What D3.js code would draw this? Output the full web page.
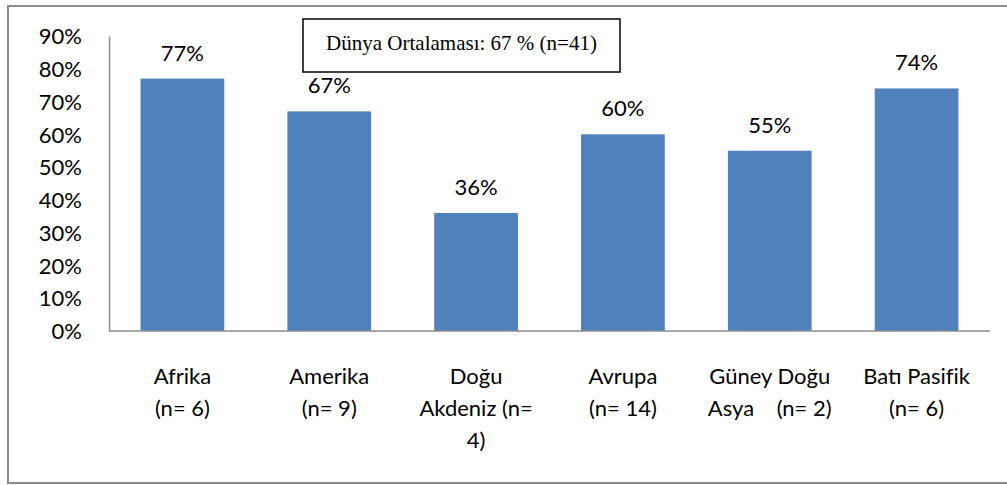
<!DOCTYPE html>
<html lang="tr">
<head>
<meta charset="UTF-8">
<title>Dünya Ortalaması</title>
<script src="https://cdn.jsdelivr.net/npm/d3@7"></script>
<style>
    body { margin: 0; background: #fff; }
    svg text { font-family: Lato, 'Open Sans', sans-serif; fill: #000; }
</style>
</head>
<body>
<svg id="chart" width="1007" height="485"></svg>
<script>
    const regions = ["Afrika", "Amerika", "Doğu Akdeniz", "Avrupa", "Güney Doğu Asya", "Batı Pasifik"];
    const values = [77, 67, 36, 60, 55, 74];
    // wrapped category labels as they appear under the axis
    const labelLines = [
        ["Afrika", "(n= 6)"],
        ["Amerika", "(n= 9)"],
        ["Doğu", "Akdeniz (n=", "4)"],
        ["Avrupa", "(n= 14)"],
        ["Güney Doğu", "Asya    (n= 2)"],
        ["Batı Pasifik", "(n= 6)"]
    ];
    const yTicks = [0, 10, 20, 30, 40, 50, 60, 70, 80, 90];
    const boxText = "Dünya Ortalaması: 67 % (n=41)";

    const svg = d3.select("#chart");
    const plotLeft = 109, plotRight = 990, plotTop = 36, plotBottom = 331;

    // outer frame (right edge is cut off)
    svg.append("path")
        .attr("d", "M1007,6 H8 V483 H1007")
        .attr("fill", "none")
        .attr("stroke", "#8c8c8c")
        .attr("stroke-width", 2);

    const x = d3.scaleBand().domain(regions).range([plotLeft, plotRight])
        .paddingInner(0.43).paddingOuter(0.215);
    const y = d3.scaleLinear().domain([0, 90]).range([plotBottom, plotTop]);

    // bars
    svg.selectAll("rect.bar")
        .data(regions)
        .enter().append("rect")
        .attr("class", "bar")
        .attr("x", d => x(d))
        .attr("width", x.bandwidth())
        .attr("y", (d, i) => y(values[i]))
        .attr("height", (d, i) => plotBottom - y(values[i]))
        .attr("fill", "#4f81bd");

    // y axis
    const yAxis = svg.append("g")
        .attr("transform", `translate(${plotLeft},0)`)
        .call(d3.axisLeft(y).tickValues(yTicks).tickSize(0).tickPadding(27).tickFormat(d => d + "%"));
    yAxis.select(".domain").attr("stroke", "#8c8c8c").attr("stroke-width", 1.5);
    yAxis.selectAll("text").style("font-size", "22px").attr("dy", "0.35em");

    // x axis line
    svg.append("line")
        .attr("x1", plotLeft).attr("x2", plotRight)
        .attr("y1", plotBottom).attr("y2", plotBottom)
        .attr("stroke", "#8c8c8c").attr("stroke-width", 1.5);

    // category labels
    const cat = svg.selectAll("text.cat")
        .data(regions)
        .enter().append("text")
        .attr("class", "cat")
        .attr("text-anchor", "middle")
        .style("white-space", "pre")
        .style("font-size", "22px");
    cat.each(function(d, i) {
        const t = d3.select(this);
        labelLines[i].forEach((line, j) => {
            t.append("tspan")
                .attr("x", x(d) + x.bandwidth() / 2)
                .attr("y", 384 + j * 32)
                .text(line);
        });
    });

    // value labels
    svg.selectAll("text.val")
        .data(regions)
        .enter().append("text")
        .attr("class", "val")
        .attr("text-anchor", "middle")
        .attr("x", d => x(d) + x.bandwidth() / 2)
        .attr("y", (d, i) => y(values[i]) - 18)
        .style("font-size", "22px")
        .text((d, i) => values[i] + "%");

    // world average box
    svg.append("rect")
        .attr("x", 303).attr("y", 19)
        .attr("width", 317).attr("height", 53)
        .attr("fill", "#fff")
        .attr("stroke", "#000")
        .attr("stroke-width", 1.5);
    svg.append("text")
        .attr("x", 461.5).attr("y", 50)
        .attr("text-anchor", "middle")
        .style("font-family", "'Liberation Serif', 'DejaVu Serif', serif")
        .style("font-size", "21px")
        .text(boxText);
</script>
</body>
</html>
